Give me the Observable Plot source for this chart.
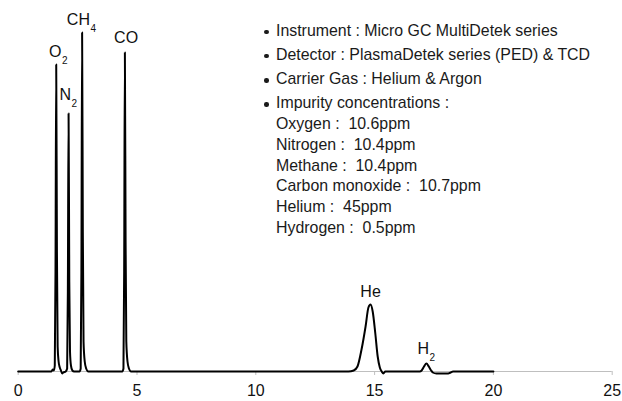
<!DOCTYPE html>
<html>
<head>
<meta charset="utf-8">
<script src="https://cdn.jsdelivr.net/npm/d3@7"></script>
<script src="https://cdn.jsdelivr.net/npm/@observablehq/plot@0.6"></script>
<style>
  html, body { margin: 0; padding: 0; background: #fff; }
  #wrap { position: relative; width: 622px; height: 401px; overflow: hidden; }
  #notes { position: absolute; left: 276px; top: 20.6px; font-family: "Liberation Sans", Arial, sans-serif; font-size: 15.9px; color: #1a1a1a; line-height: 20.7px; white-space: pre; }
  #notes .b { position: relative; margin-bottom: 3.6px; }
  #notes .b:nth-child(4) { margin-bottom: 0; }
  #notes .b::before { content: ""; position: absolute; left: -12px; top: 9px; width: 4.5px; height: 4.5px; border-radius: 50%; background: #1a1a1a; }
</style>
</head>
<body>
<div id="wrap"></div>
<script>
// Retention time (min) and detector signal (arbitrary units)
const traceTime = [
  0, 1.40, 1.45, 1.50, 1.54, 1.57, 1.60, 1.63, 1.66, 1.70, 1.75, 1.80, 1.85, 1.90,
  2.00, 2.06, 2.09, 2.12, 2.15, 2.18, 2.22, 2.28, 2.35,
  2.58, 2.63, 2.66, 2.69, 2.72, 2.75, 2.80, 2.86, 2.95,
  4.38, 4.43, 4.46, 4.49, 4.52, 4.55, 4.60, 4.66, 4.75,
  13.90, 14.12, 14.28, 14.45, 14.62, 14.74, 14.83, 14.92, 15.03, 15.13, 15.22, 15.30, 15.37, 15.45,
  16.90, 16.98, 17.08, 17.18, 17.28, 17.38, 17.45, 17.60, 18.10, 18.20, 18.30, 20.00
];
const traceSignal = [
  0, 0, 2, 1, 6, 100, 307, 120, 25, 10, 4, 1, -2, -1,
  0, 3, 80, 258, 90, 20, 6, 1, 0,
  0, 3, 100, 339, 140, 30, 10, 3, 0,
  0, 3, 100, 319, 130, 30, 10, 3, 0,
  0, 1, 5, 22, 45, 64, 67, 60, 38, 15, 4, 0, -2, 0,
  0, 1, 5, 8, 5, 1, -1, -2, -2, -1, 0, 0
];

// Peak labels: main text, subscript, anchor time, anchor signal (main), signal (subscript)
const labelMain = ["O", "N", "CH", "CO", "He", "H"];
const labelSub  = ["2", "2", "4", "", "", "2"];
const labelTime = [1.82, 2.22, 3.02, 4.54, 14.83, 17.29];
const labelSig  = [320, 277, 351.5, 333.5, 80, 22.5];
const labelSubSig = [311, 267.5, 342.5, null, null, 14];

const xTicks = [0, 5, 10, 15, 20, 25];

const noteBullets = [
  "Instrument : Micro GC MultiDetek series",
  "Detector : PlasmaDetek series (PED) & TCD",
  "Carrier Gas : Helium & Argon",
  "Impurity concentrations :"
];
const noteLines = [
  "Oxygen :  10.6ppm",
  "Nitrogen :  10.4ppm",
  "Methane :  10.4ppm",
  "Carbon monoxide :  10.7ppm",
  "Helium :  45ppm",
  "Hydrogen :  0.5ppm"
];

const trace = traceTime.map((t, i) => ({t, s: traceSignal[i]}));
const labels = labelMain.map((m, i) => ({m, sub: labelSub[i], t: labelTime[i], s: labelSig[i], ss: labelSubSig[i]}));
const withSub = labels.filter(d => d.sub);
const noSub = labels.filter(d => !d.sub);

const chart = Plot.plot({
  width: 622,
  height: 401,
  marginLeft: 17.7,
  marginRight: 10.3,
  marginTop: 11,
  marginBottom: 30,
  style: {fontFamily: "'Liberation Sans', Arial, sans-serif", background: "#fff"},
  x: {domain: [0, 25], label: null},
  y: {domain: [0, 360], axis: null},
  marks: [
    Plot.ruleY([0], {stroke: "#bfbfbf", strokeWidth: 1}),
    Plot.axisX({ticks: xTicks, tickSize: 4, tickPadding: 9, stroke: "#bfbfbf", fontSize: 16, fill: "#111", label: null, tickFormat: d => String(d)}),
    Plot.line(trace, {x: "t", y: "s", stroke: "#000", strokeWidth: 2, curve: "monotone-x"}),
    Plot.text(withSub, {x: "t", y: "s", text: "m", textAnchor: "end", fontSize: 16, fill: "#111"}),
    Plot.text(withSub, {x: "t", y: "ss", text: "sub", textAnchor: "start", fontSize: 10, fill: "#111", dx: 0.5}),
    Plot.text(noSub, {x: "t", y: "s", text: "m", textAnchor: "middle", fontSize: 16, fill: "#111"})
  ]
});

const wrap = document.getElementById("wrap");
wrap.appendChild(chart);
const notes = document.createElement("div");
notes.id = "notes";
noteBullets.forEach(t => { const d = document.createElement("div"); d.className = "b"; d.textContent = t; notes.appendChild(d); });
noteLines.forEach(t => { const d = document.createElement("div"); d.className = "s"; d.textContent = t; notes.appendChild(d); });
wrap.appendChild(notes);
</script>
</body>
</html>
